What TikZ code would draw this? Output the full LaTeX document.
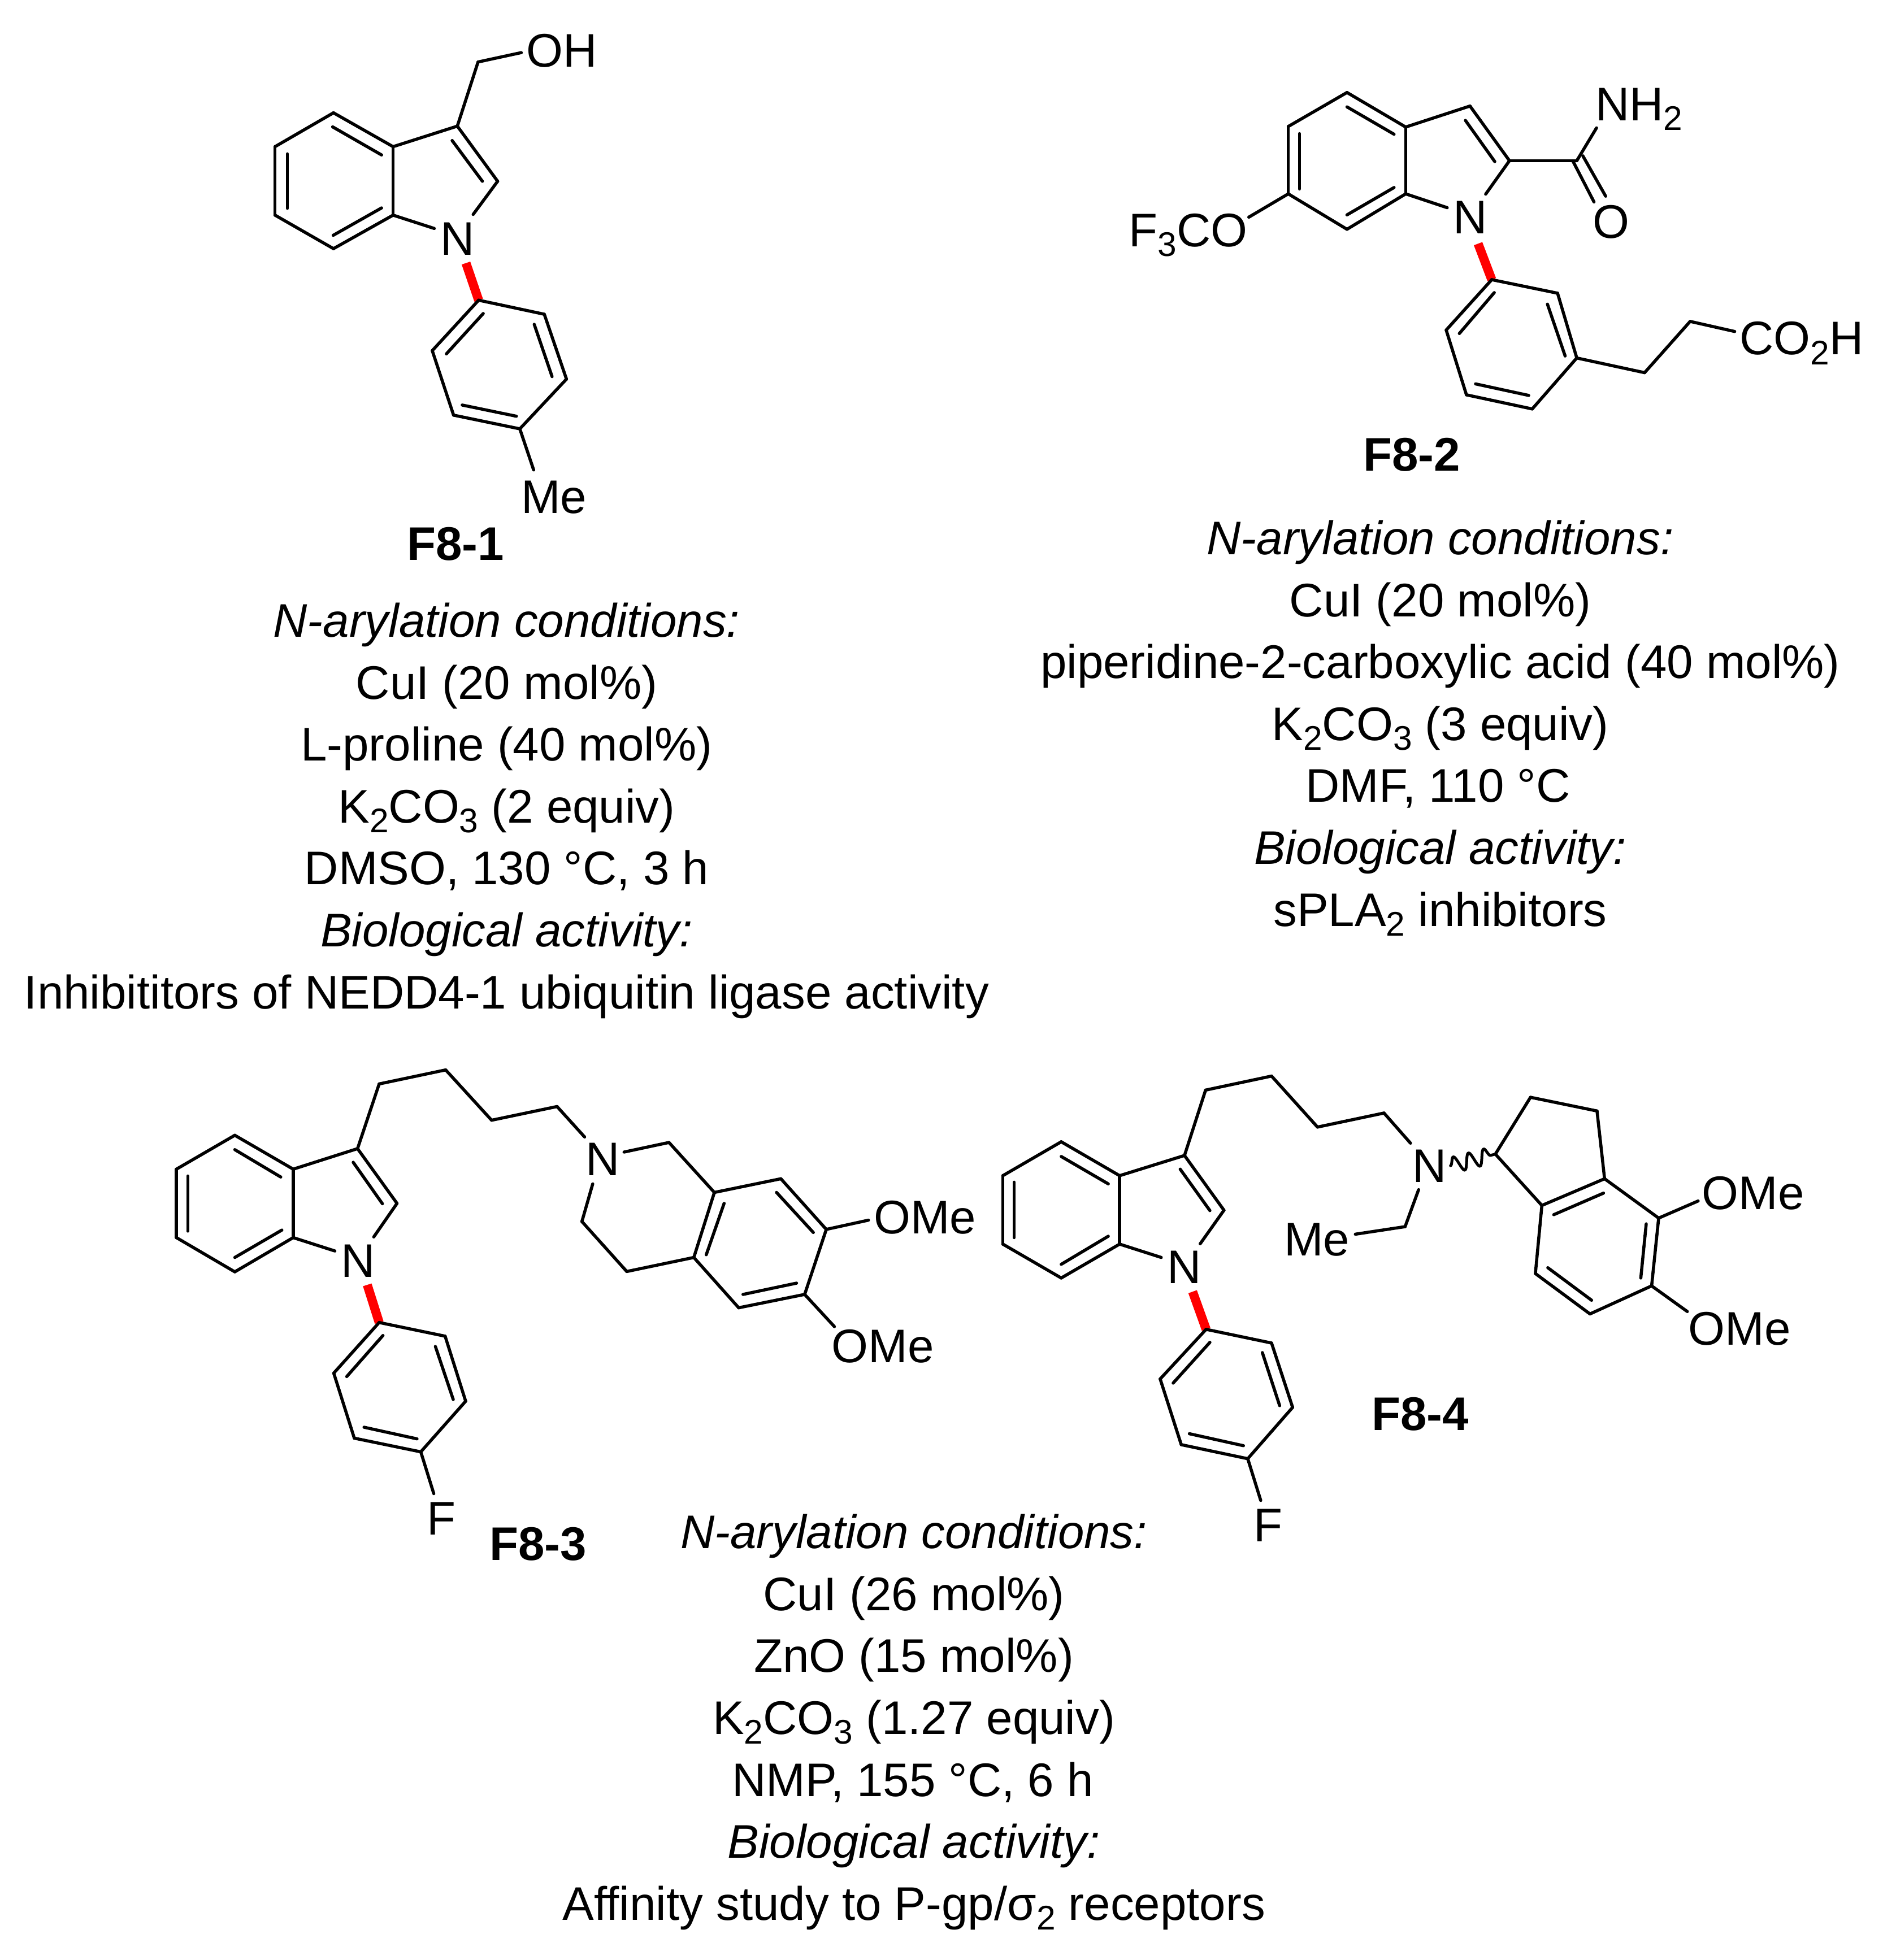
\documentclass[tikz,border=0pt]{standalone}
\usepackage{fontspec}
\setmainfont{Liberation Sans}
\usetikzlibrary{decorations.pathmorphing}
\newcommand{\sbs}[1]{\raisebox{-0.21em}{\fontsize{17.2}{17.2}\selectfont #1}}
\newcommand{\pts}[1]{\foreach \n/\px/\py in {#1} {\coordinate (\n) at (\px,\py);}}
\newcommand{\bnd}[1]{\foreach \pa/\pb in {#1} {\draw[bond] (\pa) -- (\pb);}}
\tikzset{
  bond/.style={line width=0.055cm,line cap=round,line join=round,black},
  redbond/.style={line width=0.16cm,red},
  lab/.style={inner sep=0pt,outer sep=0pt,font=\fontsize{23.75}{23.75}\selectfont},
  cmpd/.style={inner sep=0pt,outer sep=0pt,anchor=base,font=\fontsize{23.75}{23.75}\selectfont\bfseries},
  cond/.style={inner sep=0pt,outer sep=0pt,anchor=base,font=\fontsize{23.75}{23.75}\selectfont},
  zone/.style n args={4}{shift={(#1cm,-#2cm)},x=#3cm,y=-#4cm}
}
\begin{document}
\begin{tikzpicture}
\useasboundingbox (0,0) rectangle (33.55,-34.69);
% ---------- F8-1
\begin{scope}[zone={4}{0}{0.005102}{0.0063776}]
\pts{a1/373/313,a2/170/407,a3/170/597,a4/373/690,a5/580/597,a6/580/407,
 ai1/370/352,ai2/540/430,ai3/213/427,ai4/213/578,ai5/372/653,ai6/540/577,
 a7/803/350,a8/943/503,a9/858/595,a10/723/634,ai7/785/390,ai8/890/503,
 a11/875/172,a12/1025/146,ar1/833/730,a13/877/833,a14/1105/872,a15/1182/1052,
 a16/1020/1190,a17/790/1152,a18/716/973,ai9/893/870,ai10/765/982,ai11/1070/900,
 ai12/1132/1045,ai13/1008/1155,ai14/820/1124,a19/1068/1304}
\draw[redbond] (ar1) -- (a13);
\bnd{a1/a2,a2/a3,a3/a4,a4/a5,a5/a6,a6/a1,ai1/ai2,ai3/ai4,ai5/ai6,a6/a7,a7/a8,a8/a9,a5/a10,ai7/ai8,
 a7/a11,a11/a12,a13/a14,a14/a15,a15/a16,a16/a17,a17/a18,a18/a13,ai9/ai10,ai11/ai12,ai13/ai14,a16/a19}
\node[lab,anchor=base] (aN) at (803,708) {N};
\node[lab,anchor=base west] (aOH) at (1043,185) {OH};
\node[lab,anchor=base west] (aMe) at (1025,1425) {Me};
\node[cmpd] (aL) at (797,1555) {F8-1};
\end{scope}
% ---------- F8-2
\begin{scope}[zone={19.5}{1}{0.008961}{0.005102}]
\pts{b1/484/125,b2/368/243,b3/368/477,b4/484/600,b5/600/477,b6/600/245,
 bi1/484/175,bi2/577/270,bi3/390/268,bi4/390/460,bi5/484/550,bi6/577/455,
 b7/727/172,b8/805/362,b9/758/478,b10/682/525,bi7/718/222,bi8/776/365,
 b11/938/362,b12/977/248,bo1/930/362,bo2/972/505,bo3/950/345,bo4/995/485,b13/290/558,
 br1/743/650,b14/770/775,b15/900/822,b16/938/1047,b17/850/1224,b18/720/1175,b19/680/950,
 bi9/775/820,bi10/706/962,bi11/880/860,bi12/915/1040,bi13/843/1177,bi14/738/1137,
 b20/1072/1098,b21/1162/920,b22/1250/955}
\draw[redbond] (br1) -- (b14);
\bnd{b1/b2,b2/b3,b3/b4,b4/b5,b5/b6,b6/b1,bi1/bi2,bi3/bi4,bi5/bi6,b6/b7,b7/b8,b8/b9,b5/b10,bi7/bi8,
 b8/b11,b11/b12,bo1/bo2,bo3/bo4,b3/b13,b14/b15,b15/b16,b16/b17,b17/b18,b18/b19,b19/b14,
 bi9/bi10,bi11/bi12,bi13/bi14,b16/b20,b20/b21,b21/b22}
\node[lab,anchor=base] (bN) at (727,615) {N};
\node[lab,anchor=base west] (bNH) at (975,222) {NH\sbs{2}};
\node[lab,anchor=base west] (bF) at (53,660) {F\sbs{3}CO};
\node[lab,anchor=base] (bO) at (1006,630) {O};
\node[lab,anchor=base west] (bC) at (1260,1035) {CO\sbs{2}H};
\node[cmpd] (bL) at (612,1440) {F8-2};
\end{scope}
% ---------- F8-3
\begin{scope}[zone={2.5}{18.5}{0.009569}{0.0060606}]
\pts{c1/173/263,c2/65/362,c3/65/562,c4/173/662,c5/281/562,c6/281/362,
 ci1/173/305,ci2/258/385,ci3/86/382,ci4/86/543,ci5/173/620,ci6/260/540,
 c7/400/302,c8/473/462,c9/430/560,c10/358/601,ci7/392/342,ci8/446/463,
 c11/440/113,c12/563/72,c13/648/219,c14/769/179,c15/820/268,
 c16/893/312,c17/976/284,c18/1060/430,c19/1183/390,c20/1267/538,c21/1227/728,c22/1105/767,c23/1022/620,
 c24/898/661,c25/815/515,c26/835/405,ci9/1078/462,ci10/1045/612,ci11/1175/430,ci12/1243/547,ci13/1212/695,ci14/1113/728,
 c27/1345/511,c28/1282/822,cr1/418/700,c29/440/810,c30/562/850,c31/600/1040,c32/517/1188,c33/394/1148,c34/356/958,
 ci15/447/848,ci16/380/968,ci17/544/880,ci18/577/1035,ci19/510/1150,ci20/412/1116,c35/541/1310}
\draw[redbond] (cr1) -- (c29);
\bnd{c1/c2,c2/c3,c3/c4,c4/c5,c5/c6,c6/c1,ci1/ci2,ci3/ci4,ci5/ci6,c6/c7,c7/c8,c8/c9,c5/c10,ci7/ci8,
 c7/c11,c11/c12,c12/c13,c13/c14,c14/c15,c16/c17,c17/c18,c18/c19,c19/c20,c20/c21,c21/c22,c22/c23,c23/c18,
 c23/c24,c24/c25,c25/c26,ci9/ci10,ci11/ci12,ci13/ci14,c20/c27,c21/c28,
 c29/c30,c30/c31,c31/c32,c32/c33,c33/c34,c34/c29,ci15/ci16,ci17/ci18,ci19/ci20,c32/c35}
\node[lab,anchor=base] (cN1) at (401,677) {N};
\node[lab,anchor=base] (cN2) at (854,380) {N};
\node[lab,anchor=base west] (cO1) at (1355,550) {OMe};
\node[lab,anchor=base west] (cO2) at (1277,927) {OMe};
\node[lab,anchor=base] (cF) at (555,1430) {F};
\node[cmpd] (cL) at (734,1505) {F8-3};
\end{scope}
% ---------- F8-4
\begin{scope}[zone={17.2}{18.5}{0.009569}{0.0060606}]
\pts{d1/165/282,d2/57/381,d3/57/581,d4/165/680,d5/273/581,d6/273/381,
 di1/165/325,di2/252/405,di3/78/400,di4/78/562,di5/165/640,di6/252/558,
 d7/393/322,d8/466/482,d9/422/580,d10/350/620,di7/385/362,di8/440/483,
 d11/432/131,d12/554/90,d13/639/239,d14/762/198,d15/811/286,
 d16/826/422,d17/801/530,d18/709/552,dw1/885/352,d19/968/318,
 d20/1033/152,d21/1156/192,d22/1170/390,d23/1054/468,d24/1270/505,d25/1257/703,d26/1143/785,d27/1042/667,
 di9/1168/432,di10/1076/495,di11/1247/522,di12/1237/680,di13/1146/745,di14/1065/650,
 d28/1343/455,d29/1323/778,dr1/408/720,d30/433/830,d31/554/870,d32/593/1058,d33/510/1208,d34/387/1167,d35/348/975,
 di15/440/868,di16/372/987,di17/537/898,di18/569/1053,di19/502/1170,di20/402/1135,d36/534/1330}
\draw[redbond] (dr1) -- (d30);
\bnd{d1/d2,d2/d3,d3/d4,d4/d5,d5/d6,d6/d1,di1/di2,di3/di4,di5/di6,d6/d7,d7/d8,d8/d9,d5/d10,di7/di8,
 d7/d11,d11/d12,d12/d13,d13/d14,d14/d15,d16/d17,d17/d18,d19/d20,d20/d21,d21/d22,d22/d23,d23/d19,
 d22/d24,d24/d25,d25/d26,d26/d27,d27/d23,di9/di10,di11/di12,di13/di14,d24/d28,d25/d29,
 d30/d31,d31/d32,d32/d33,d33/d34,d34/d35,d35/d30,di15/di16,di17/di18,di19/di20,d33/d36}
\draw[bond,line width=0.05cm,decorate,decoration={snake,segment length=7.9pt,amplitude=4pt}] (dw1) -- (d19);
\node[lab,anchor=base] (dN1) at (393,696) {N};
\node[lab,anchor=base] (dN2) at (846,400) {N};
\node[lab,anchor=base west] (dMe) at (577,615) {Me};
\node[lab,anchor=base west] (dO1) at (1350,480) {OMe};
\node[lab,anchor=base west] (dO2) at (1325,875) {OMe};
\node[lab,anchor=base] (dF) at (548,1450) {F};
\node[cmpd] (dL) at (829,1125) {F8-4};
\end{scope}
% ---------- text blocks
\begin{scope}[x=0.01cm,y=-0.01cm]
\node[cond] (t11) at (897,1128) {\itshape N-arylation conditions:};
\node[cond] (t12) at (897,1237.7) {CuI (20 mol\%)};
\node[cond] (t13) at (897,1347.4) {L-proline (40 mol\%)};
\node[cond] (t14) at (897,1457.1) {K\sbs{2}CO\sbs{3} (2 equiv)};
\node[cond] (t15) at (897,1566.8) {DMSO, 130 °C, 3 h};
\node[cond] (t16) at (897,1676.5) {\itshape Biological activity:};
\node[cond] (t17) at (897,1786.2) {Inhibititors of NEDD4-1 ubiquitin ligase activity};
\node[cond] (t21) at (2550,982) {\itshape N-arylation conditions:};
\node[cond] (t22) at (2550,1091.7) {CuI (20 mol\%)};
\node[cond] (t23) at (2550,1201.4) {piperidine-2-carboxylic acid (40 mol\%)};
\node[cond] (t24) at (2550,1311.1) {K\sbs{2}CO\sbs{3} (3 equiv)};
\node[cond] (t25) at (2546,1420.8) {DMF, 110 °C};
\node[cond] (t26) at (2550,1530.5) {\itshape Biological activity:};
\node[cond] (t27) at (2550,1640.2) {sPLA\sbs{2} inhibitors};
\node[cond] (t31) at (1618,2742) {\itshape N-arylation conditions:};
\node[cond] (t32) at (1618,2851.7) {CuI (26 mol\%)};
\node[cond] (t33) at (1618,2961.4) {ZnO (15 mol\%)};
\node[cond] (t34) at (1618,3071.1) {K\sbs{2}CO\sbs{3} (1.27 equiv)};
\node[cond] (t35) at (1616,3180.8) {NMP, 155 °C, 6 h};
\node[cond] (t36) at (1618,3290.5) {\itshape Biological activity:};
\node[cond] (t37) at (1618,3400.2) {Affinity study to P-gp/σ\sbs{2} receptors};
\end{scope}
\end{tikzpicture}
\end{document}
